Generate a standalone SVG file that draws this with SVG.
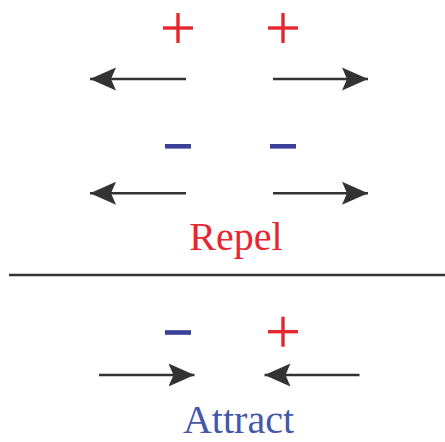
<svg xmlns="http://www.w3.org/2000/svg" width="445" height="442" viewBox="0 0 445 442">
<style>
.arr{stroke:#333;stroke-width:2.6;fill:none}
.red{fill:#e8262f}
.blue{fill:#3a3f98}
.lbl{font-family:"Liberation Serif",serif;font-size:40px;text-anchor:middle}
.lblblue{fill:#4358a8}
</style>
<defs>
<marker id="ah" viewBox="0 0 26 24" refX="26" refY="12" markerWidth="26" markerHeight="24" markerUnits="userSpaceOnUse" orient="auto">
<path d="M26,12 L0,0.5 L5,12 L0,23.5 Z" fill="#333"/>
</marker>
<g id="plusShape"><rect x="-15" y="-1.7" width="30" height="3.4"/><rect x="-1.7" y="-15" width="3.4" height="30"/></g>
</defs>
<rect width="445" height="442" fill="#fff"/>
<g id="charges">
<g id="plus1" class="red"><use href="#plusShape" x="178" y="28"/></g>
<g id="plus2" class="red"><use href="#plusShape" x="283" y="28"/></g>
<g id="minus1" class="blue"><rect x="165" y="144" width="26" height="4.6"/></g>
<g id="minus2" class="blue"><rect x="270" y="144" width="26" height="4.6"/></g>
<g id="minus3" class="blue"><rect x="165" y="330.2" width="26" height="4.6"/></g>
<g id="plus3" class="red"><use href="#plusShape" x="283" y="331.7"/></g>
</g>
<g id="connectors">
<line class="arr" x1="186" y1="79" x2="90" y2="79" marker-end="url(#ah)"/>
<line class="arr" x1="273" y1="79" x2="368" y2="79" marker-end="url(#ah)"/>
<line class="arr" x1="186" y1="193.3" x2="90" y2="193.3" marker-end="url(#ah)"/>
<line class="arr" x1="273" y1="193.3" x2="368" y2="193.3" marker-end="url(#ah)"/>
<line class="arr" x1="99" y1="375" x2="194.5" y2="375" marker-end="url(#ah)"/>
<line class="arr" x1="359.5" y1="375" x2="264.5" y2="375" marker-end="url(#ah)"/>
</g>
<line id="divider" x1="9" y1="275" x2="445" y2="275" stroke="#333" stroke-width="2.6"/>
<g id="labels">
<text id="repel" class="lbl red" x="236" y="250">Repel</text>
<text id="attract" class="lbl lblblue" x="238.5" y="433">Attract</text>
</g>
</svg>
